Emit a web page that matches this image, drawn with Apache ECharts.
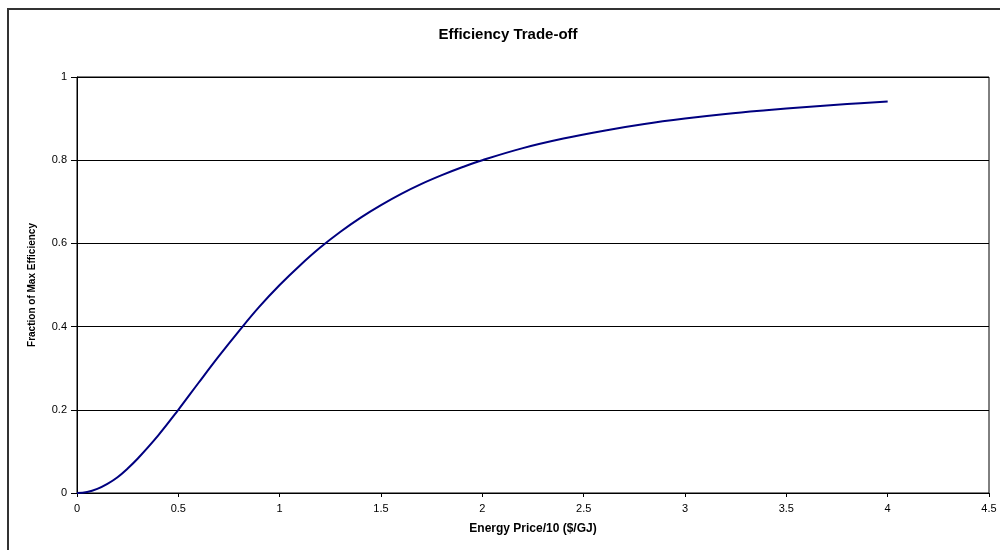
<!DOCTYPE html>
<html>
<head>
<meta charset="utf-8">
<script src="https://cdn.jsdelivr.net/npm/echarts@6/dist/echarts.min.js"></script>
<style>
html,body{margin:0;padding:0;background:#fff;}
#chart{width:1000px;height:550px;}
</style>
</head>
<body>
<div id="chart"></div>
<script>
const titleText = 'Efficiency Trade-off';
const xAxisName = 'Energy Price/10 ($/GJ)';
const yAxisName = 'Fraction of Max Efficiency';
const priceX = [0, 0.05, 0.1, 0.15, 0.2, 0.25, 0.3, 0.4, 0.5, 0.6, 0.7, 0.8, 0.9, 1.0, 1.1, 1.2, 1.3, 1.4, 1.5, 1.6, 1.7, 1.8, 1.9, 2.0, 2.2, 2.4, 2.6, 2.8, 3.0, 3.2, 3.4, 3.6, 3.8, 4.0];
const efficiencyY = [0, 0.0025, 0.01, 0.022, 0.038, 0.059, 0.083, 0.138, 0.2, 0.265, 0.329, 0.39, 0.448, 0.5, 0.547, 0.59, 0.628, 0.662, 0.692, 0.719, 0.743, 0.764, 0.783, 0.8, 0.829, 0.852, 0.871, 0.887, 0.9, 0.911, 0.92, 0.928, 0.935, 0.941];

const seriesData = priceX.map((x, i) => [x, efficiencyY[i]]);
const chart = echarts.init(document.getElementById('chart'), null, {renderer: 'canvas'});
chart.setOption({
  animation: false,
  backgroundColor: '#fff',
  grid: {left: 77, right: 11, top: 77, bottom: 57, show: true, borderColor: '#000', borderWidth: 1},
  graphic: [
    {type: 'rect', shape: {x: 8, y: 9, width: 1000, height: 600}, style: {fill: 'none', stroke: '#333', lineWidth: 2}, silent: true},
    {type: 'text', x: 508, y: 35, style: {text: titleText, textAlign: 'center', textVerticalAlign: 'middle', font: 'bold 15px "Liberation Sans", Arial, sans-serif', fill: '#000'}},
    {type: 'text', x: 533, y: 529, style: {text: xAxisName, textAlign: 'center', textVerticalAlign: 'middle', font: 'bold 12px "Liberation Sans", Arial, sans-serif', fill: '#000'}},
    {type: 'text', x: 32, y: 285, rotation: Math.PI / 2, style: {text: yAxisName, textAlign: 'center', textVerticalAlign: 'middle', font: 'bold 10px "Liberation Sans", Arial, sans-serif', fill: '#000'}}
  ],
  xAxis: {
    type: 'value', min: 0, max: 4.5, interval: 0.5,
    axisLine: {lineStyle: {color: '#000', width: 1}},
    axisTick: {show: true, inside: false, length: 4, lineStyle: {color: '#000'}},
    axisLabel: {color: '#000', fontSize: 11, fontFamily: '"Liberation Sans", Arial, sans-serif', margin: 10},
    splitLine: {show: false}
  },
  yAxis: {
    type: 'value', min: 0, max: 1, interval: 0.2,
    axisLine: {show: true, lineStyle: {color: '#000', width: 1}},
    axisTick: {show: true, inside: false, length: 6, lineStyle: {color: '#000'}},
    axisLabel: {color: '#000', fontSize: 11, fontFamily: '"Liberation Sans", Arial, sans-serif', margin: 10, formatter: v => String(+v.toFixed(1))},
    splitLine: {show: true, lineStyle: {color: '#000', width: 1}}
  },
  series: [{
    type: 'line', data: seriesData, smooth: 0.4, showSymbol: false,
    lineStyle: {color: '#000080', width: 2}
  }]
});
</script>
</body>
</html>
